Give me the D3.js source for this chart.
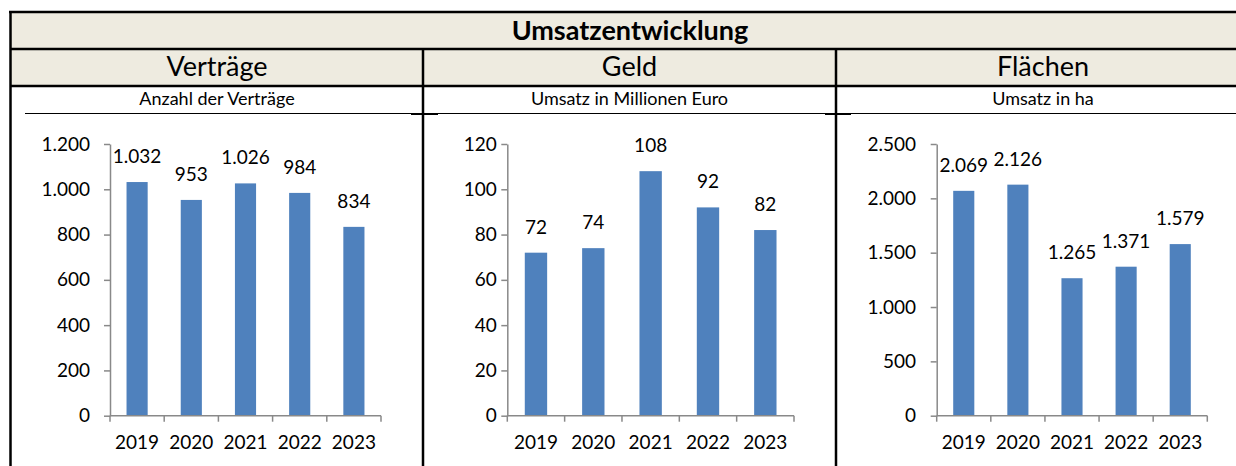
<!DOCTYPE html>
<html>
<head>
<meta charset="utf-8">
<script src="https://cdn.jsdelivr.net/npm/d3@7"></script>
<style>
  body { margin: 0; background: #fff; }
  svg { display: block; font-family: Lato, "Open Sans", sans-serif; }
</style>
</head>
<body>
<div id="chart"></div>
<script>
var years = ["2019", "2020", "2021", "2022", "2023"];

var titleText = "Umsatzentwicklung";
var panelTitles = ["Verträge", "Geld", "Flächen"];
var panelSubtitles = ["Anzahl der Verträge", "Umsatz in Millionen Euro", "Umsatz in ha"];

var vertraege = [1032, 953, 1026, 984, 834];
var geld = [72, 74, 108, 92, 82];
var flaechen = [2069, 2126, 1265, 1371, 1579];

var yTicks1 = [0, 200, 400, 600, 800, 1000, 1200];
var yTicks2 = [0, 20, 40, 60, 80, 100, 120];
var yTicks3 = [0, 500, 1000, 1500, 2000, 2500];

var W = 1236, H = 466;
var de = d3.formatLocale({decimal: ",", thousands: ".", grouping: [3], currency: ["", " €"]});
var fmt = de.format(",d");

var svg = d3.select("#chart").append("svg")
    .attr("width", W)
    .attr("height", H);

// table frame (last column runs past the right edge of the picture)
var colX = [11, 423, 836, 1250];
svg.append("rect").attr("x", 11).attr("y", 12).attr("width", W - 11).attr("height", 74).attr("fill", "#eeebe0");

function hline(y, x1, x2, w) {
    svg.append("line").attr("x1", x1).attr("x2", x2).attr("y1", y).attr("y2", y)
        .attr("stroke", "#000").attr("stroke-width", w);
}
function vline(x, y1, y2, w) {
    svg.append("line").attr("x1", x).attr("x2", x).attr("y1", y1).attr("y2", y2)
        .attr("stroke", "#000").attr("stroke-width", w);
}
hline(12, 9, W, 2.5);
hline(49, 10, W, 2.5);
hline(86, 10, W, 2.5);
hline(113.5, 25, W, 1);
hline(114, 411, 438, 2);
hline(114, 825, 851, 2);
vline(10.5, 11, H, 2.5);
vline(423, 49, H, 2.5);
vline(836, 49, H, 2.5);

svg.append("text")
    .attr("x", 630).attr("y", 40)
    .attr("text-anchor", "middle")
    .style("font-size", "27px")
    .style("font-weight", "700")
    .text(titleText);

panelTitles.forEach(function(t, i) {
    var cx = (colX[i] + colX[i + 1]) / 2;
    svg.append("text")
        .attr("x", cx).attr("y", 76)
        .attr("text-anchor", "middle")
        .style("font-size", "27px")
        .text(t);
    svg.append("text")
        .attr("x", cx).attr("y", 105)
        .attr("text-anchor", "middle")
        .style("font-size", "18px")
        .text(panelSubtitles[i]);
});

var panels = [
    {values: vertraege, ticks: yTicks1, x0: 110, x1: 381, gap: 14},
    {values: geld, ticks: yTicks2, x0: 507.3, x1: 794, gap: 4.5},
    {values: flaechen, ticks: yTicks3, x0: 936.7, x1: 1207.3, gap: 14.7}
];
var yTop = 144, yBottom = 415.7;
var axisColor = "#898989";
var fs = "19px";

panels.forEach(function(p) {
    var x = d3.scaleBand().domain(years).range([p.x0, p.x1]).padding(0);
    var y = d3.scaleLinear().domain([0, d3.max(p.ticks)]).range([yBottom, yTop]);
    var bw = x.bandwidth() * 0.39;

    var g = svg.append("g");

    g.selectAll("rect.bar")
        .data(p.values)
        .enter().append("rect")
        .attr("class", "bar")
        .attr("x", function(d, i) { return x(years[i]) + x.bandwidth() / 2 - bw / 2; })
        .attr("y", function(d) { return y(d); })
        .attr("width", bw)
        .attr("height", function(d) { return y(0) - y(d); })
        .attr("fill", "#4f81bd");

    g.selectAll("text.val")
        .data(p.values)
        .enter().append("text")
        .attr("class", "val")
        .attr("x", function(d, i) { return x(years[i]) + x.bandwidth() / 2; })
        .attr("y", function(d) { return y(d) - 19; })
        .attr("text-anchor", "middle")
        .style("font-size", fs)
        .text(function(d) { return fmt(d); });

    // y axis
    var ya = g.append("g")
        .attr("transform", "translate(" + p.x0 + ",0)")
        .call(d3.axisLeft(y).tickValues(p.ticks).tickSize(6).tickSizeOuter(0).tickPadding(p.gap).tickFormat(fmt));
    ya.select(".domain").attr("stroke", axisColor).attr("stroke-width", 1.5);
    ya.selectAll(".tick line").attr("stroke", axisColor).attr("stroke-width", 1.5);
    ya.selectAll(".tick text").style("font-size", fs).style("font-family", "Lato").attr("fill", "#000");

    // x axis: ticks at category boundaries
    var xa = g.append("g")
        .attr("transform", "translate(0," + yBottom + ")")
        .call(d3.axisBottom(x).tickSize(0).tickPadding(20));
    xa.select(".domain").remove();
    xa.selectAll(".tick text").style("font-size", fs).style("font-family", "Lato").attr("fill", "#000");

    var bounds = years.map(function(yr) { return x(yr); }).concat([p.x1]);
    g.append("line")
        .attr("x1", p.x0).attr("x2", p.x1)
        .attr("y1", yBottom).attr("y2", yBottom)
        .attr("stroke", axisColor).attr("stroke-width", 1.5);
    g.selectAll("line.xt")
        .data(bounds)
        .enter().append("line")
        .attr("class", "xt")
        .attr("x1", function(d) { return d; }).attr("x2", function(d) { return d; })
        .attr("y1", yBottom).attr("y2", yBottom + 6)
        .attr("stroke", axisColor).attr("stroke-width", 1.5);
});
</script>
</body>
</html>
